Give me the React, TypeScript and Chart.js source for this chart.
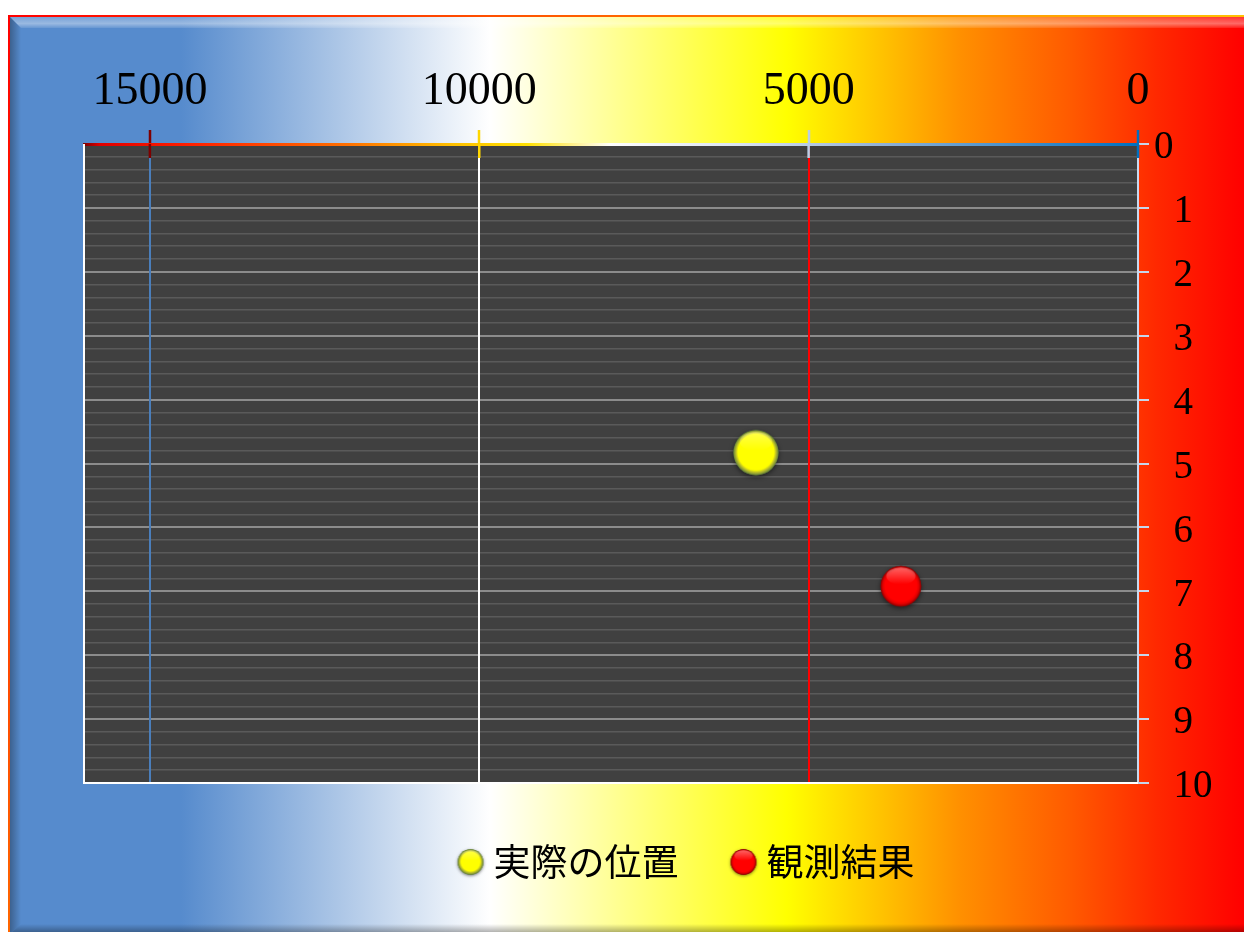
import React, { useEffect, useRef } from 'react';
import { Chart, registerables } from 'chart.js';

Chart.register(...registerables);

// ---- data ----
const seriesNames = ['実際の位置', '観測結果'];
const actualX = [5800];
const actualY = [4.83];
const observedX = [3600];
const observedY = [6.92];
const xTickValues = [0, 5000, 10000, 15000];
const xTickLabels = ['0', '5000', '10000', '15000'];
const yTickLabels = ['0', '1', '2', '3', '4', '5', '6', '7', '8', '9', '10'];
const xMax = 16000;
const yMax = 10;
const yMinorPerUnit = 5;

// ---- styles ----
const xGridColor: Record<number, string> = { 0: 'rgba(0,0,0,0)', 5000: '#ff0000', 10000: '#ffffff', 15000: '#4a7ebb' };
const xTickColor: Record<number, string> = { 0: '#0070c0', 5000: '#b9cde5', 10000: '#ffd700', 15000: '#7f0000' };

function makeSphere(r: number, body: string, rim: string, rimDark: string, hl: number, bodyEnd: number) {
  const pad = Math.ceil(r * 0.3) + 2;
  const size = 2 * Math.ceil(r + pad);
  const c = document.createElement('canvas');
  c.width = size;
  c.height = size;
  const g = c.getContext('2d')!;
  const cx = size / 2, cy = size / 2;
  g.save();
  g.shadowColor = 'rgba(0,0,0,0.55)';
  g.shadowBlur = r * 0.25;
  g.shadowOffsetY = r * 0.08;
  g.beginPath();
  g.arc(cx, cy, r, 0, Math.PI * 2);
  g.fillStyle = rimDark;
  g.fill();
  g.restore();
  const rg = g.createRadialGradient(cx, cy - r * 0.15, 0, cx, cy, r);
  rg.addColorStop(0, body);
  rg.addColorStop(bodyEnd, body);
  rg.addColorStop((bodyEnd + 1) / 2, rim);
  rg.addColorStop(1, rimDark);
  g.beginPath();
  g.arc(cx, cy, r, 0, Math.PI * 2);
  g.fillStyle = rg;
  g.fill();
  const lg = g.createLinearGradient(0, cy - r * 0.95, 0, cy - r * 0.1);
  lg.addColorStop(0, `rgba(255,255,255,${hl})`);
  lg.addColorStop(1, 'rgba(255,255,255,0)');
  g.beginPath();
  g.ellipse(cx, cy - r * 0.5, r * 0.72, r * 0.42, 0, 0, Math.PI * 2);
  g.fillStyle = lg;
  g.fill();
  return c;
}

export default function App() {
  const ref = useRef<HTMLCanvasElement>(null);

  useEffect(() => {
    const canvas = ref.current!;
    const ctx = canvas.getContext('2d')!;

    const yellowSprite = makeSphere(22.5, '#ffff00', '#b4b82c', '#64823a', 0.3, 0.8);
    const redSprite = makeSphere(20.3, '#ff0000', '#e00000', '#8b0000', 0.4, 0.78);
    const yellowLegend = makeSphere(12.8, '#ffff00', '#b4b82c', '#64823a', 0.3, 0.74);
    const redLegend = makeSphere(12.8, '#ff0000', '#e00000', '#8b0000', 0.4, 0.78);
    const legendSprites = [yellowLegend, redLegend];

    const topGrad = ctx.createLinearGradient(84, 0, 1138, 0);
    topGrad.addColorStop(0, '#7f0000');
    topGrad.addColorStop(0.015, '#e00000');
    topGrad.addColorStop(0.1, '#ff2000');
    topGrad.addColorStop(0.25, '#ff7000');
    topGrad.addColorStop(0.35, '#ffc000');
    topGrad.addColorStop(0.42, '#ffe000');
    topGrad.addColorStop(0.5, '#ffffff');
    topGrad.addColorStop(0.62, '#dbe5f1');
    topGrad.addColorStop(0.75, '#95b3d7');
    topGrad.addColorStop(1, '#0070c0');

    const framePlugin = {
      id: 'frame',
      beforeDraw(chart: any) {
        const c = chart.ctx;
        const W = 1244, H = 932;
        c.save();
        const g = c.createLinearGradient(8, 0, W, 0);
        g.addColorStop(0, '#568bcd');
        g.addColorStop(0.14, '#568bcd');
        g.addColorStop(0.39, '#ffffff');
        g.addColorStop(0.63, '#ffff00');
        g.addColorStop(0.7, '#ffc800');
        g.addColorStop(0.77, '#ff9000');
        g.addColorStop(0.86, '#ff5a00');
        g.addColorStop(0.93, '#ff2800');
        g.addColorStop(1, '#ff0000');
        c.fillStyle = g;
        c.fillRect(8, 15, W - 8, H - 15);
        // top bevel
        const tb = c.createLinearGradient(0, 17, 0, 28);
        tb.addColorStop(0, 'rgba(255,255,255,0.2)');
        tb.addColorStop(0.6, 'rgba(255,255,255,0.4)');
        tb.addColorStop(1, 'rgba(255,255,255,0.1)');
        c.beginPath();
        c.moveTo(10, 17); c.lineTo(W, 17); c.lineTo(W, 28); c.lineTo(21, 28); c.closePath();
        c.fillStyle = tb; c.fill();
        // left bevel
        const lb = c.createLinearGradient(10, 0, 21, 0);
        lb.addColorStop(0, 'rgba(0,0,0,0.3)');
        lb.addColorStop(1, 'rgba(0,0,0,0)');
        c.beginPath();
        c.moveTo(10, 17); c.lineTo(21, 28); c.lineTo(21, H - 8); c.lineTo(10, H + 2); c.closePath();
        c.fillStyle = lb; c.fill();
        // bottom bevel
        const bb = c.createLinearGradient(0, H - 8, 0, H);
        bb.addColorStop(0, 'rgba(0,0,0,0)');
        bb.addColorStop(1, 'rgba(0,0,0,0.3)');
        c.beginPath();
        c.moveTo(10, H + 2); c.lineTo(21, H - 8); c.lineTo(W, H - 8); c.lineTo(W, H + 2); c.closePath();
        c.fillStyle = bb; c.fill();
        // outer border
        const bg = c.createLinearGradient(8, 15, 857, 588);
        bg.addColorStop(0, '#ff0000');
        bg.addColorStop(0.5, '#ff6600');
        bg.addColorStop(1, '#ffc000');
        c.strokeStyle = bg;
        c.lineWidth = 2;
        c.strokeRect(9, 16, W + 10, H + 10);
        // plot area
        const ca = chart.chartArea;
        c.fillStyle = '#404040';
        c.fillRect(ca.left, ca.top, ca.right - ca.left, ca.bottom - ca.top);
        c.restore();
      },
    };

    const overlayPlugin = {
      id: 'overlay',
      beforeDatasetsDraw(chart: any) {
        const c = chart.ctx;
        const ca = chart.chartArea;
        c.save();
        c.strokeStyle = '#ffffff';
        c.lineWidth = 2;
        c.beginPath();
        c.moveTo(ca.left, ca.top);
        c.lineTo(ca.left, ca.bottom);
        c.lineTo(ca.right, ca.bottom);
        c.stroke();
        const xs = chart.scales.x;
        c.lineWidth = 2.5;
        xTickValues.forEach((v) => {
          const px = xs.getPixelForValue(v);
          c.strokeStyle = xTickColor[v];
          c.beginPath();
          c.moveTo(px, ca.top);
          c.lineTo(px, ca.top + 14);
          c.stroke();
        });
        c.restore();
      },
    };

    const isMajor = (v: number) => Number.isInteger(Math.round(v * 1000) / 1000);

    const chart = new Chart(ctx, {
      type: 'scatter',
      data: {
        datasets: [
          {
            label: seriesNames[0],
            data: actualX.map((x, i) => ({ x, y: actualY[i] })),
            pointStyle: yellowSprite as any,
            pointRadius: 22,
            pointHoverRadius: 22,
          },
          {
            label: seriesNames[1],
            data: observedX.map((x, i) => ({ x, y: observedY[i] })),
            pointStyle: redSprite as any,
            pointRadius: 20,
            pointHoverRadius: 20,
          },
        ],
      },
      options: {
        responsive: false,
        animation: false,
        events: [],
        layout: { padding: { top: 15, left: 84, right: -52.5, bottom: 41.5 } },
        scales: {
          y: {
            type: 'linear',
            position: 'right',
            reverse: true,
            min: 0,
            max: yMax,
            afterBuildTicks: (s: any) => {
              const t: any[] = [];
              for (let i = 0; i <= yMax * yMinorPerUnit; i++) t.push({ value: i / yMinorPerUnit });
              s.ticks = t;
            },
            afterFit: (s: any) => { s.width = 158.5; },
            ticks: {
              autoSkip: false,
              padding: 5,
              labelOffset: 4,
              crossAlign: 'near',
              color: '#000000',
              font: { family: '"Liberation Serif", serif', size: 39 },
              callback: (v: any) => {
                const r = Math.round(Number(v) * 1000) / 1000;
                if (!Number.isInteger(r)) return '';
                return (r === 0 ? '' : '\u2002') + yTickLabels[r];
              },
            },
            grid: {
              z: -2,
              color: (c: any) => {
                if (!c.tick) return '#5a5a5a';
                const v = c.tick.value;
                if (v === 0) return 'rgba(0,0,0,0)';
                return isMajor(v) ? '#8c8c8c' : '#5a5a5a';
              },
              lineWidth: (c: any) => (c.tick && isMajor(c.tick.value) ? 2 : 1.5),
              tickLength: 11,
              tickWidth: 2,
              tickColor: (c: any) => (c.tick && isMajor(c.tick.value) ? '#c6d6ea' : 'rgba(0,0,0,0)'),
            },
            border: { color: '#c6d9f0', width: 2 },
          },
          x: {
            type: 'linear',
            position: 'top',
            reverse: true,
            min: 0,
            max: xMax,
            afterBuildTicks: (s: any) => { s.ticks = xTickValues.map((v) => ({ value: v })); },
            afterFit: (s: any) => { s.height = 129; },
            ticks: {
              autoSkip: false,
              maxRotation: 0,
              padding: 10.5,
              color: '#000000',
              font: { family: '"Liberation Serif", serif', size: 46 },
              callback: (v: any) => {
                const i = xTickValues.indexOf(Number(v));
                return i >= 0 ? xTickLabels[i] : '';
              },
            },
            grid: {
              z: -1,
              color: (c: any) => (c.tick ? xGridColor[c.tick.value] ?? 'rgba(0,0,0,0)' : 'rgba(0,0,0,0)'),
              lineWidth: 2,
              tickLength: 14,
              tickWidth: 2.5,
              tickColor: (c: any) => (c.tick ? xTickColor[c.tick.value] ?? 'rgba(0,0,0,0)' : 'rgba(0,0,0,0)'),
            },
            border: { color: topGrad as any, width: 3 },
          },
        },
        plugins: {
          tooltip: { enabled: false },
          legend: {
            position: 'bottom',
            align: 'center',
            labels: {
              usePointStyle: true,
              boxWidth: 9,
              boxHeight: 18.4,
              padding: 60.5,
              color: '#000000',
              font: { family: '"Noto Sans CJK JP", sans-serif', size: 37 },
              generateLabels: (ch: any) => {
                const items = (Chart.defaults.plugins.legend.labels as any).generateLabels(ch);
                items.forEach((it: any, i: number) => { it.pointStyle = legendSprites[i]; });
                return items;
              },
            },
          },
        },
      } as any,
      plugins: [framePlugin, overlayPlugin],
    });

    return () => chart.destroy();
  }, []);

  return (
    <canvas
      ref={ref}
      width={1244}
      height={932}
      style={{ position: 'fixed', left: 0, top: 0, width: 1244, height: 932 }}
    />
  );
}
